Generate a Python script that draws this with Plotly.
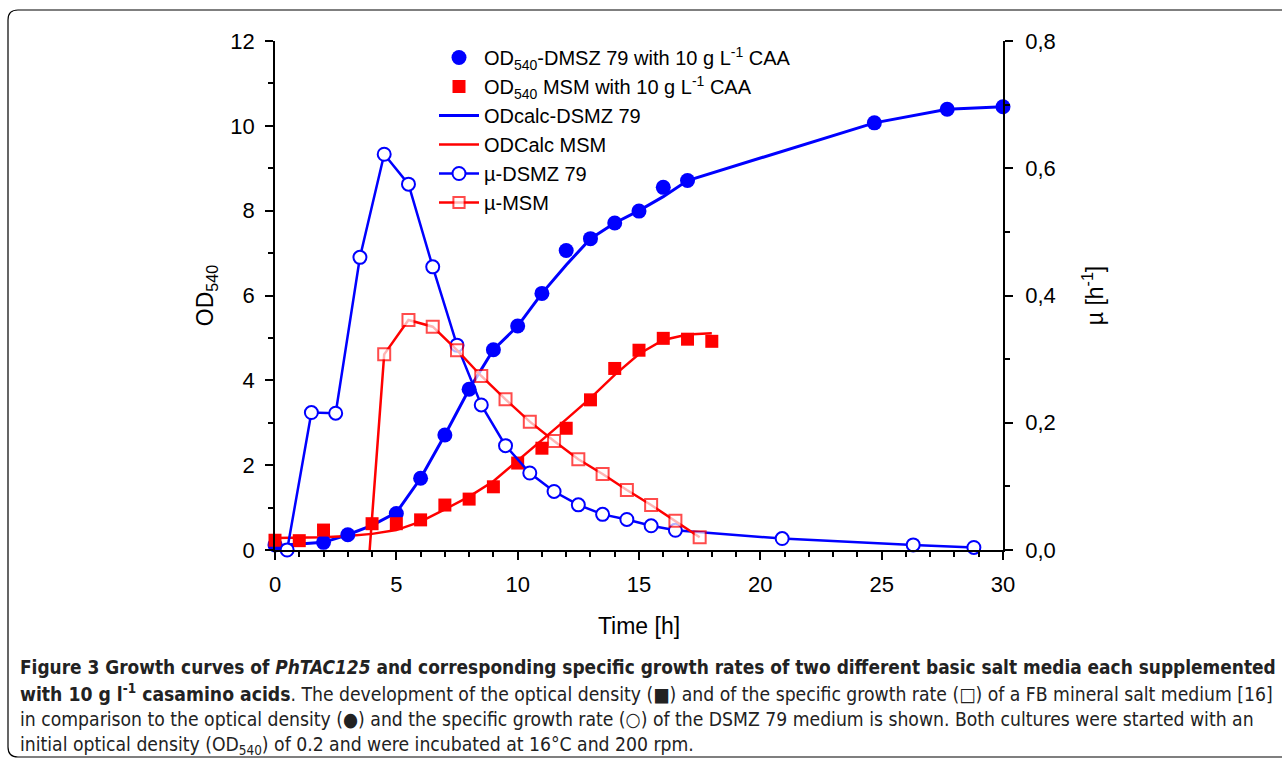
import plotly.graph_objects as go

# ---------------- data ----------------
t_od_dsmz = [0, 2, 3, 5, 6, 7, 8, 9, 10, 11, 12, 13, 14, 15, 16, 17, 24.7, 27.7, 30]
od_dsmz = [0.12, 0.18, 0.36, 0.86, 1.69, 2.71, 3.79, 4.72, 5.28, 6.05, 7.06, 7.34, 7.71, 7.99, 8.55, 8.71, 10.07, 10.39, 10.45]

t_od_msm = [0, 1, 2, 4, 5, 6, 7, 8, 9, 10, 11, 12, 13, 14, 15, 16, 17, 18]
od_msm = [0.23, 0.22, 0.47, 0.62, 0.62, 0.71, 1.06, 1.2, 1.49, 2.05, 2.4, 2.87, 3.54, 4.28, 4.71, 4.99, 4.97, 4.92]

t_calc_dsmz = [0, 1, 2, 3, 4, 5, 6, 7, 8, 9, 10, 11, 12, 13, 14, 15, 16, 17, 24.7, 27.7, 30]
calc_dsmz = [0.1, 0.14, 0.18, 0.36, 0.58, 0.88, 1.69, 2.71, 3.79, 4.72, 5.28, 6.05, 6.72, 7.34, 7.71, 8.0, 8.33, 8.71, 10.07, 10.39, 10.45]

t_calc_msm = [0, 1, 2, 3, 4, 5, 6, 7, 8, 9, 10, 11, 12, 13, 14, 15, 16, 17, 18]
calc_msm = [0.28, 0.29, 0.3, 0.33, 0.38, 0.47, 0.67, 0.96, 1.26, 1.62, 2.1, 2.6, 3.08, 3.58, 4.13, 4.62, 4.95, 5.08, 5.11]

t_mu_dsmz = [0.5, 1.5, 2.5, 3.5, 4.5, 5.5, 6.5, 7.5, 8.5, 9.5, 10.5, 11.5, 12.5, 13.5, 14.5, 15.5, 16.5, 20.9, 26.3, 28.8]
mu_dsmz = [0.0, 0.216, 0.215, 0.46, 0.622, 0.575, 0.445, 0.322, 0.228, 0.164, 0.121, 0.092, 0.071, 0.056, 0.048, 0.038, 0.031, 0.018, 0.008, 0.004]

t_mu_msm = [3.9, 4.5, 5.5, 6.5, 7.5, 8.5, 9.5, 10.5, 11.5, 12.5, 13.5, 14.5, 15.5, 16.5, 17.5]
mu_msm = [0.0, 0.3075, 0.3615, 0.351, 0.314, 0.2735, 0.2368, 0.2017, 0.1713, 0.1425, 0.1194, 0.0943, 0.0707, 0.046, 0.02]

names = [
    "OD<sub>540</sub>-DMSZ 79 with 10 g L<sup>-1</sup> CAA",
    "OD<sub>540</sub> MSM with 10 g L<sup>-1</sup> CAA",
    "ODcalc-DSMZ 79",
    "ODCalc MSM",
    "µ-DSMZ 79",
    "µ-MSM",
]

caption_lines = [
    "<b>Figure 3 Growth curves of <i>PhTAC125</i> and corresponding specific growth rates of two different basic salt media each supplemented</b>",
    "<b>with 10 g l<sup>-1</sup> casamino acids</b>. The development of the optical density (■) and of the specific growth rate (□) of a FB mineral salt medium [16]",
    "in comparison to the optical density (●) and the specific growth rate (○) of the DSMZ 79 medium is shown. Both cultures were started with an",
    "initial optical density (OD<sub>540</sub>) of 0.2 and were incubated at 16°C and 200 rpm.",
]

BLUE = "#0000FF"
RED = "#FF0000"
FONT = "Liberation Sans, Arial, sans-serif"

W, H = 1282, 763
L, R, T, B = 275, 1003, 41, 550


def px(xp):
    return (xp - L) / (R - L)


def py(yp):
    return (B - yp) / (B - T)


fig = go.Figure()

fig.add_trace(go.Scatter(x=t_calc_dsmz, y=calc_dsmz, mode="lines", name=names[2], legendrank=3,
                         line=dict(color=BLUE, width=3), cliponaxis=False))
fig.add_trace(go.Scatter(x=t_calc_msm, y=calc_msm, mode="lines", name=names[3], legendrank=4,
                         line=dict(color=RED, width=2.5), cliponaxis=False))
fig.add_trace(go.Scatter(x=t_mu_dsmz, y=mu_dsmz, mode="lines+markers", name=names[4], legendrank=5,
                         yaxis="y2", line=dict(color=BLUE, width=2.5), cliponaxis=False,
                         marker=dict(symbol="circle", size=13, color="white", line=dict(color=BLUE, width=2))))
fig.add_trace(go.Scatter(x=t_mu_msm, y=mu_msm, mode="lines+markers", name=names[5], legendrank=6,
                         yaxis="y2", line=dict(color=RED, width=2.5),
                         marker=dict(symbol="square", size=[0] + [12] * (len(t_mu_msm) - 1), color="white",
                                     line=dict(color=RED, width=2))))
fig.add_trace(go.Scatter(x=t_od_dsmz, y=od_dsmz, mode="markers", name=names[0], legendrank=1,
                         marker=dict(symbol="circle", size=15, color=BLUE), cliponaxis=False))
fig.add_trace(go.Scatter(x=t_od_msm, y=od_msm, mode="markers", name=names[1], legendrank=2,
                         marker=dict(symbol="square", size=13, color=RED), cliponaxis=False))

axis_common = dict(showgrid=False, zeroline=False, showline=True, linecolor="black", linewidth=1.5,
                   ticks="outside", ticklen=8, tickwidth=1.5, tickcolor="black",
                   tickfont=dict(family=FONT, size=22, color="black"))

fig.update_layout(
    width=W, height=H,
    margin=dict(l=L, r=W - R, t=T, b=H - B, pad=0),
    paper_bgcolor="white", plot_bgcolor="white",
    separators=",.",
    font=dict(family=FONT, color="black"),
    xaxis=dict(range=[0, 30], dtick=5, tick0=0, ticklabelstandoff=6,
               minor=dict(dtick=1, ticks="outside", ticklen=5, tickwidth=1.5, tickcolor="black"),
               title=dict(text="Time [h]", font=dict(family=FONT, size=23), standoff=22),
               **axis_common),
    yaxis=dict(range=[0, 12], dtick=2, tick0=0, ticklabelstandoff=6,
               minor=dict(dtick=1, ticks="outside", ticklen=5, tickwidth=1.5, tickcolor="black"),
               title=dict(text="OD<sub>540</sub>", font=dict(family=FONT, size=23), standoff=10),
               **axis_common),
    yaxis2=dict(range=[0, 0.8], dtick=0.2, tick0=0, tickformat=".1f", overlaying="y", side="right",
                ticklabelstandoff=8,
                minor=dict(dtick=0.1, ticks="outside", ticklen=5, tickwidth=1.5, tickcolor="black"),
                title=dict(text="µ [h<sup>-1</sup>]", font=dict(family=FONT, size=23), standoff=32),
                **axis_common),
    legend=dict(x=px(434), y=py(38), xanchor="left", yanchor="top", bgcolor="rgba(0,0,0,0)",
                font=dict(family=FONT, size=20, color="black"), tracegroupgap=0, itemwidth=40),
    showlegend=True,
)

# rounded border around figure
x0, x1, y0, y1 = px(8), px(1300), py(757), py(10)
rx, ry = 10 / (R - L), 10 / (B - T)
path = (f"M {x0 + rx},{y1} L {x1 - rx},{y1} Q {x1},{y1} {x1},{y1 - ry} L {x1},{y0 + ry} "
        f"Q {x1},{y0} {x1 - rx},{y0} L {x0 + rx},{y0} Q {x0},{y0} {x0},{y0 + ry} "
        f"L {x0},{y1 - ry} Q {x0},{y1} {x0 + rx},{y1} Z")
fig.add_shape(type="path", path=path, xref="paper", yref="paper",
              line=dict(color="black", width=1.2), layer="below")

cap_y = [667, 693, 719, 745]
cap_size = [18.9, 19.2, 19.2, 19.2]
for line, yy, sz in zip(caption_lines, cap_y, cap_size):
    fig.add_annotation(text=line, xref="paper", yref="paper", x=px(18), y=py(yy),
                       xanchor="left", yanchor="middle", showarrow=False, align="left",
                       font=dict(family="DejaVu Sans Condensed, sans-serif",
                                 size=sz, color="#222222"))

fig.write_html("out.html", config={"displayModeBar": False},
               post_script="document.body.style.margin='0';document.body.style.overflow='hidden';")
